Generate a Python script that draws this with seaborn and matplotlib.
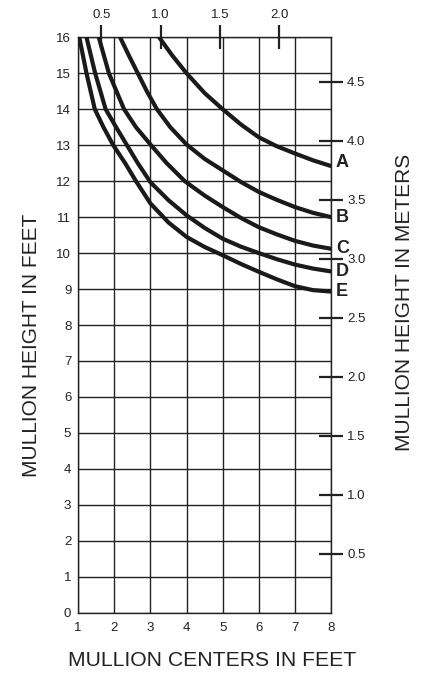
import numpy as np
import pandas as pd
import matplotlib
matplotlib.use("Agg")
import matplotlib.pyplot as plt
import seaborn as sns

# ---- data ----
curve_names = ["A", "B", "C", "D", "E"]
a_x = [3.24, 3.6, 4.0, 4.5, 5.0, 5.5, 6.0, 6.5, 7.0, 7.5, 8.0]
a_y = [16.0, 15.5, 15.0, 14.45, 14.0, 13.58, 13.22, 12.97, 12.77, 12.58, 12.42]
b_x = [2.16, 2.4, 2.65, 2.9, 3.18, 3.55, 4.0, 4.5, 5.0, 5.5, 6.0, 6.5, 7.0, 7.5, 8.0]
b_y = [16.0, 15.5, 15.0, 14.5, 14.0, 13.5, 13.02, 12.62, 12.3, 11.98, 11.7, 11.48, 11.28, 11.12, 11.0]
c_x = [1.57, 1.85, 2.27, 2.6, 3.0, 3.45, 3.95, 4.5, 5.0, 5.5, 6.0, 6.5, 7.0, 7.5, 8.0]
c_y = [16.0, 15.0, 14.0, 13.5, 13.02, 12.5, 12.0, 11.6, 11.28, 10.98, 10.72, 10.52, 10.34, 10.21, 10.12]
d_x = [1.23, 1.47, 1.76, 2.05, 2.35, 2.65, 3.0, 3.5, 4.0, 4.5, 5.0, 5.5, 6.0, 6.5, 7.0, 7.5, 8.0]
d_y = [16.0, 15.0, 14.0, 13.5, 13.0, 12.5, 11.97, 11.47, 11.05, 10.7, 10.4, 10.18, 10.0, 9.83, 9.68, 9.57, 9.49]
e_x = [1.03, 1.23, 1.46, 1.7, 1.97, 2.3, 2.6, 3.0, 3.5, 4.0, 4.5, 5.0, 5.5, 6.0, 6.5, 7.0, 7.5, 8.0]
e_y = [16.0, 15.0, 14.0, 13.5, 13.0, 12.5, 12.0, 11.38, 10.85, 10.45, 10.17, 9.94, 9.7, 9.48, 9.27, 9.08, 8.97, 8.93]

x_ticks = [1, 2, 3, 4, 5, 6, 7, 8]
y_ticks = list(range(0, 17))
top_m_ticks = [0.5, 1.0, 1.5, 2.0]
right_m_ticks = [0.5, 1.0, 1.5, 2.0, 2.5, 3.0, 3.5, 4.0, 4.5]
FT_PER_M = 3.2808

frames = []
for name, xs, ys in zip(curve_names, [a_x, b_x, c_x, d_x, e_x], [a_y, b_y, c_y, d_y, e_y]):
    frames.append(pd.DataFrame({"x": xs, "y": ys, "curve": name}))
df = pd.concat(frames, ignore_index=True)

sns.set_theme(style="white")
plt.rcParams["font.family"] = ["Liberation Sans", "DejaVu Sans"]

fig = plt.figure(figsize=(4.25, 6.75), dpi=100)
ax = fig.add_axes([0.184, 0.0923, 0.595, 0.8524])

sns.lineplot(data=df, x="x", y="y", hue="curve", palette=["#1a1a1a"] * 5,
             estimator=None, sort=False, linewidth=3.0, legend=False, ax=ax,
             zorder=3)
for ln in ax.lines:
    ln.set_solid_joinstyle("round")

ax.set_xlim(1, 8)
ax.set_ylim(0, 16)
ax.set_xticks(x_ticks)
ax.set_yticks(y_ticks)
ax.grid(True, color="#222222", linewidth=1.0)
for s in ax.spines.values():
    s.set_color("#222222")
    s.set_linewidth(1.0)
ax.tick_params(axis="x", length=0, labelsize=9.5, colors="#222222", pad=7)
ax.tick_params(axis="y", length=0, labelsize=9.5, colors="#222222", pad=5)
ax.set_xlabel("")
ax.set_ylabel("")

# curve end labels
for name, ys in zip(curve_names, [a_y, b_y, c_y, d_y, e_y]):
    off = 0.1 if name == "A" else 0.0
    ax.text(8.13, ys[-1] + off, name, fontsize=13, fontweight="bold",
            color="#222222", va="center", ha="left", clip_on=False)

# top metres axis
ax_top = ax.secondary_xaxis("top", functions=(lambda f: f / FT_PER_M, lambda m: m * FT_PER_M))
ax_top.set_xticks(top_m_ticks)
ax_top.set_xticklabels([f"{v:.1f}" for v in top_m_ticks])
ax_top.tick_params(direction="inout", length=17, width=1.6, colors="#222222",
                   labelsize=9.5, pad=3)
ax_top.spines["top"].set_visible(False)

# right metres axis
ax_r = ax.secondary_yaxis("right", functions=(lambda f: f / FT_PER_M, lambda m: m * FT_PER_M))
ax_r.set_yticks(right_m_ticks)
ax_r.set_yticklabels([f"{v:.1f}" for v in right_m_ticks])
ax_r.tick_params(direction="inout", length=17, width=1.6, colors="#222222",
                 labelsize=9.5, pad=3)
ax_r.spines["right"].set_visible(False)

fig.text(212 / 425, 1 - 661 / 675, "MULLION CENTERS IN FEET", ha="center", va="center",
         fontsize=15.2, color="#222222")
fig.text(32 / 425, 1 - 345 / 675, "MULLION HEIGHT IN FEET", ha="center", va="center",
         rotation=90, fontsize=15, color="#222222")
fig.text(404 / 425, 1 - 302 / 675, "MULLION HEIGHT IN METERS", ha="center", va="center",
         rotation=90, fontsize=15, color="#222222")

fig.savefig("out.png", dpi=100, facecolor="white")
